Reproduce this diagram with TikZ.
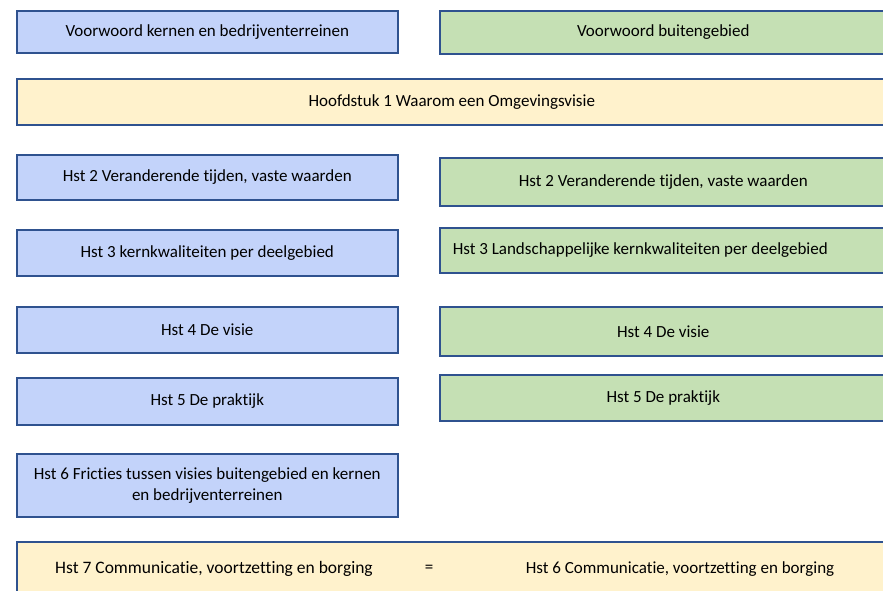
\documentclass[tikz,border=0pt]{standalone}
\usepackage{fontspec}
\setmainfont{Carlito}[Ligatures=NoCommon]
\usepackage{tikz}
\usetikzlibrary{positioning}

\definecolor{kernblue}{HTML}{C3D3FA}
\definecolor{buitengreen}{HTML}{C5E0B4}
\definecolor{hstyellow}{HTML}{FFF2CC}
\definecolor{rimblue}{HTML}{2F528F}

\begin{document}
\begin{tikzpicture}[
                    x=1pt, y=-1pt,
                    box/.style={draw=rimblue, line width=1.5pt, rectangle, anchor=north west, inner sep=0pt, align=center, font=\fontsize{17}{21}\selectfont},
                    kern/.style={box, fill=kernblue, minimum width=381pt},
                    buiten/.style={box, fill=buitengreen, minimum width=447pt},
                    hst/.style={box, fill=hstyellow, minimum width=870pt}
                ]
                    \useasboundingbox (0,0) rectangle (883,590);
                    \clip (0,0) rectangle (883,590);
                    % kernen en bedrijventerreinen
                    \node[kern, minimum height=42pt] (k0) at (16,10) {Voorwoord kernen en bedrijventerreinen};
                    \node[kern, minimum height=45pt] (k2) at (16,154) {Hst 2 Veranderende tijden, vaste waarden};
                    \node[kern, minimum height=46pt] (k3) at (16,229) {Hst 3 kernkwaliteiten per deelgebied};
                    \node[kern, minimum height=46pt] (k4) at (16,306) {Hst 4 De visie};
                    \node[kern, minimum height=47pt] (k5) at (16,377) {Hst 5 De praktijk};
                    \node[kern, minimum height=63pt] (k6) at (16,453) {Hst 6 Fricties tussen visies buitengebied en kernen\\en bedrijventerreinen};
                    % buitengebied
                    \node[buiten, minimum height=43pt] (b0) at (439,10) {Voorwoord buitengebied};
                    \node[buiten, minimum height=48pt] (b2) at (439,157) {Hst 2 Veranderende tijden, vaste waarden};
                    \node[buiten, minimum height=45pt, align=flush left, inner xsep=13pt, text width=421pt] (b3) at (439,227) {Hst 3 Landschappelijke kernkwaliteiten per deelgebied};
                    \node[buiten, minimum height=49pt] (b4) at (439,306) {Hst 4 De visie};
                    \node[buiten, minimum height=46pt] (b5) at (439,374) {Hst 5 De praktijk};
                    % gezamenlijk
                    \node[hst, minimum height=46pt] (h1) at (16,78) {Hoofdstuk 1 Waarom een Omgevingsvisie};
                    \node[hst, minimum height=56pt] (h7) at (16,541) {};
                    \node[font=\fontsize{17.5}{21}\selectfont] (h7l) at (214,569) {Hst 7 Communicatie, voortzetting en borging};
                    \node[font=\fontsize{17}{21}\selectfont] (h7eq) at (429,569) {=};
                    \node[font=\fontsize{17}{21}\selectfont] (h7r) at (680,569) {Hst 6 Communicatie, voortzetting en borging};
                \end{tikzpicture}
\end{document}
